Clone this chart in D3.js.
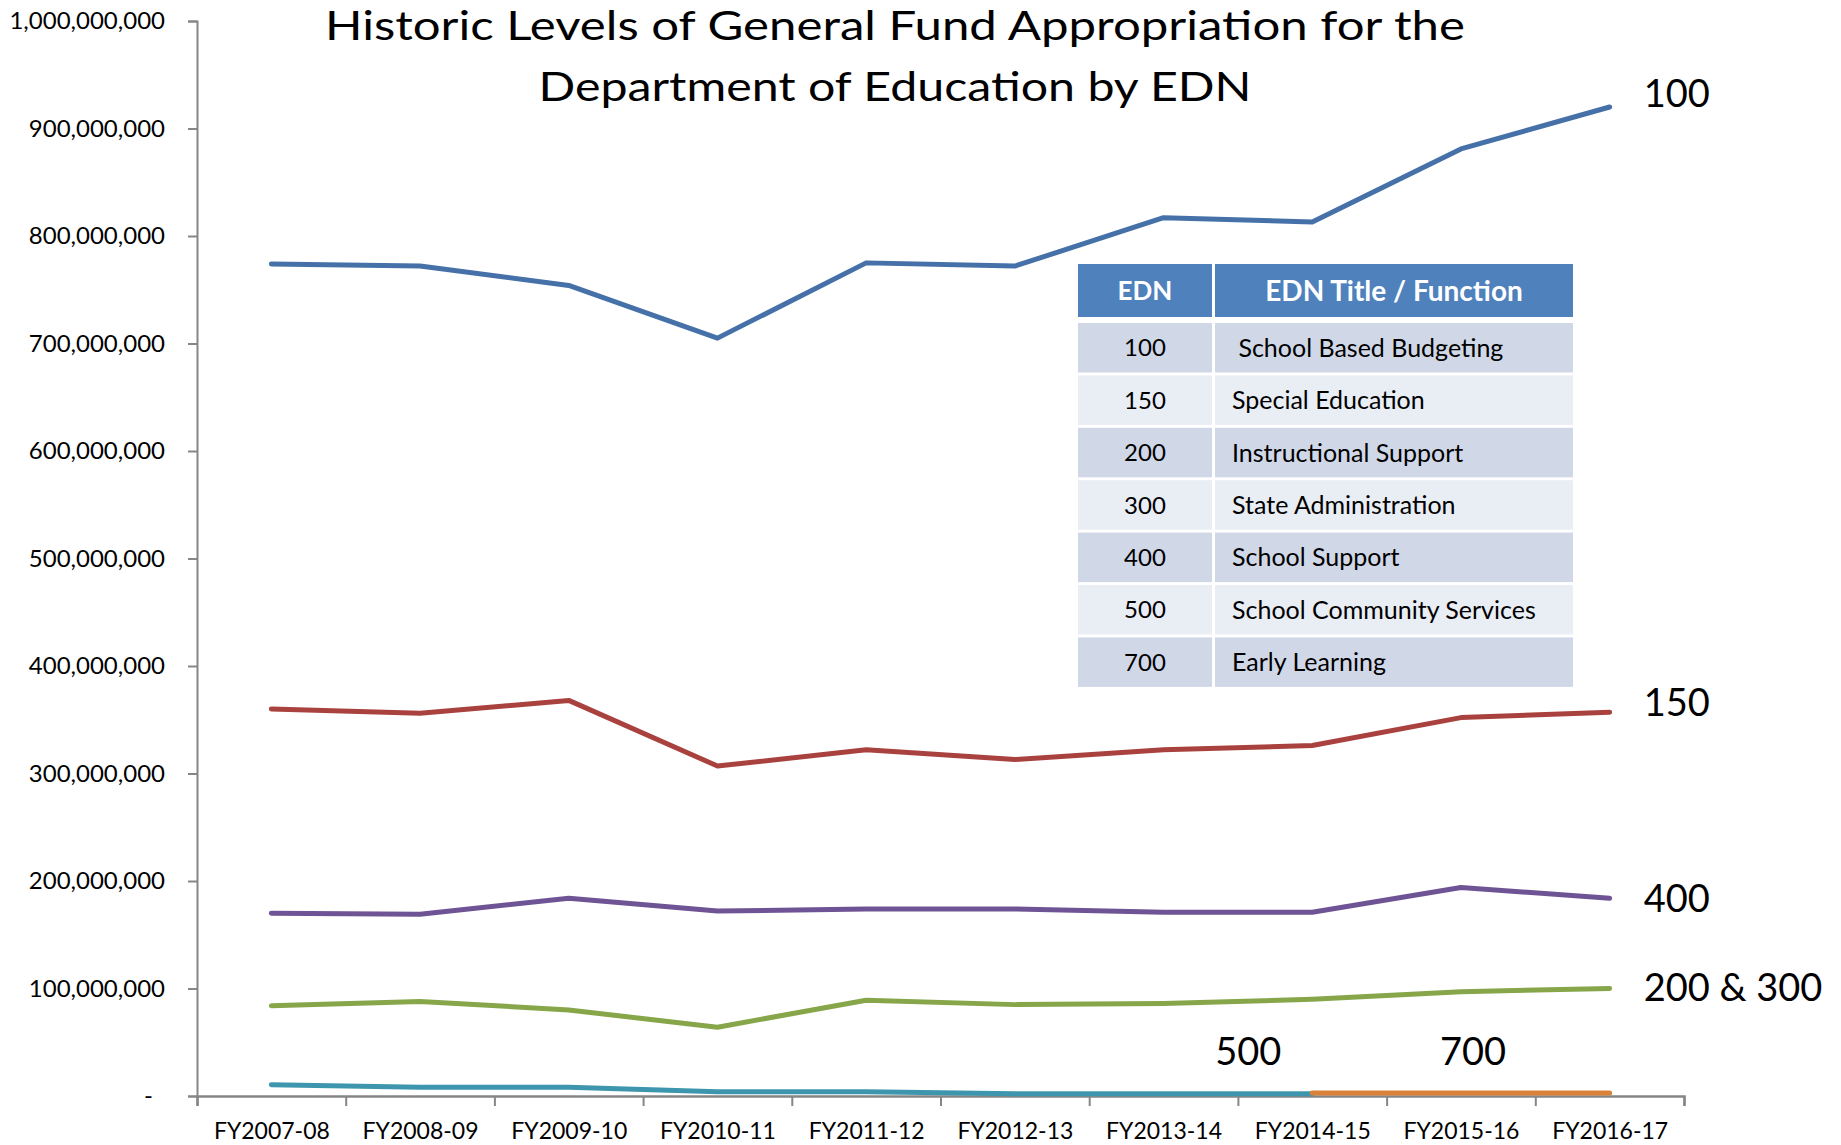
<!DOCTYPE html>
<html>
<head>
<meta charset="utf-8">
<script src="https://cdn.jsdelivr.net/npm/d3@7"></script>
<style>
  html, body { margin: 0; padding: 0; background: #ffffff; }
  svg { display: block; }
  text { font-family: Lato, "Noto Sans", sans-serif; fill: #000; }
</style>
</head>
<body>
<svg id="chart" width="1841" height="1145"></svg>
<script>
// ---------------- data ----------------
const categories = ["FY2007-08","FY2008-09","FY2009-10","FY2010-11","FY2011-12",
                    "FY2012-13","FY2013-14","FY2014-15","FY2015-16","FY2016-17"];

const edn100    = [774000000, 772000000, 754000000, 705000000, 775000000, 772000000, 817000000, 813000000, 881000000, 920000000];
const edn150    = [360000000, 356000000, 368000000, 307000000, 322000000, 313000000, 322000000, 326000000, 352000000, 357000000];
const edn400    = [170000000, 169000000, 184000000, 172000000, 174000000, 174000000, 171000000, 171000000, 194000000, 184000000];
const edn200300 = [84000000, 88000000, 80000000, 64000000, 89000000, 85000000, 86000000, 90000000, 97000000, 100000000];
const edn500    = [10400000, 8200000, 8200000, 3900000, 3900000, 2000000, 2000000, 2000000, null, null];
const edn700    = [null, null, null, null, null, null, null, 2800000, 2800000, 2800000];

const seriesNames  = ["100", "150", "400", "200 & 300", "500", "700"];
const seriesColors = ["#4571A8", "#A9423F", "#6E5494", "#87A64A", "#3D96AE", "#DB823A"];

const yTicks = [0, 100000000, 200000000, 300000000, 400000000, 500000000,
                600000000, 700000000, 800000000, 900000000, 1000000000];

const titleLines = ["Historic Levels of General Fund Appropriation for the",
                    "Department of Education by EDN"];

const tableHeader = ["EDN", "EDN Title / Function"];
const tableCodes  = ["100", "150", "200", "300", "400", "500", "700"];
const tableTitles = [" School Based Budgeting", "Special Education", "Instructional Support",
                     "State Administration", "School Support", "School Community Services", "Early Learning"];

// ---------------- layout ----------------
const svg = d3.select("#chart");
const plotLeft = 197, plotRight = 1684, plotTop = 21, plotBottom = 1096;

const x = d3.scalePoint().domain(categories).range([plotLeft, plotRight]).padding(0.5);
const xEdges = d3.scaleLinear().domain([0, categories.length]).range([plotLeft, plotRight]);
const y = d3.scaleLinear().domain([0, 1000000000]).range([plotBottom, plotTop]);

const axisColor = "#868686";

// y axis
const yAxis = svg.append("g")
  .attr("transform", `translate(${plotLeft},0)`)
  .call(d3.axisLeft(y).tickValues(yTicks).tickSize(9).tickPadding(23)
        .tickFormat(d => d === 0 ? "-" : d3.format(",")(d)));
yAxis.select(".domain").attr("stroke", axisColor).attr("stroke-width", 2);
yAxis.selectAll(".tick line").attr("stroke", axisColor).attr("stroke-width", 2);
yAxis.selectAll(".tick text").style("font-size", "24px").style("font-family", "Lato, sans-serif")
  .attr("fill", "#000")
  .attr("dx", d => d === 0 ? -12 : 0);

// x axis tick marks at category boundaries
const xTickAxis = svg.append("g")
  .attr("transform", `translate(0,${plotBottom})`)
  .call(d3.axisBottom(xEdges).tickValues(d3.range(categories.length + 1)).tickSize(10).tickFormat(""));
xTickAxis.select(".domain").attr("stroke", axisColor).attr("stroke-width", 2.5);
xTickAxis.selectAll(".tick line").attr("stroke", axisColor).attr("stroke-width", 2);

// x axis labels
const xLab = svg.append("g")
  .attr("transform", `translate(0,${plotBottom})`)
  .call(d3.axisBottom(x).tickSize(0).tickPadding(27));
xLab.select(".domain").remove();
xLab.selectAll(".tick text").style("font-size", "23px").style("font-family", "Lato, sans-serif").attr("fill", "#000");

// lines
const allSeries = [edn100, edn150, edn400, edn200300, edn500, edn700];
const line = d3.line()
  .defined(d => d.v !== null)
  .x(d => x(d.c))
  .y(d => y(d.v));

allSeries.forEach((vals, i) => {
  const pts = categories.map((c, j) => ({ c, v: vals[j] }));
  svg.append("path")
    .datum(pts)
    .attr("d", line)
    .attr("fill", "none")
    .attr("stroke", seriesColors[i])
    .attr("stroke-width", 5)
    .attr("stroke-linecap", "round")
    .attr("stroke-linejoin", "round");
});

// series labels
const labelFont = "38px";
const lastIdx = categories.length - 1;
const labelShift = [-14, -10, 0, -1];
[[0, edn100], [1, edn150], [2, edn400], [3, edn200300]].forEach(([i, vals]) => {
  svg.append("text")
    .attr("x", x(categories[lastIdx]) + 34)
    .attr("y", y(vals[lastIdx]) + labelShift[i])
    .attr("dy", "0.36em")
    .style("font-size", labelFont)
    .text(seriesNames[i]);
});
const step = x.step();
svg.append("text")
  .attr("x", x(categories[6]) + step * 0.57).attr("y", 1051).attr("dy", "0.36em")
  .attr("text-anchor", "middle").style("font-size", labelFont).text(seriesNames[4]);
svg.append("text")
  .attr("x", x(categories[8]) + 12).attr("y", 1051).attr("dy", "0.36em")
  .attr("text-anchor", "middle").style("font-size", labelFont).text(seriesNames[5]);

// title
const titleWidths = [1140, 713];
const titleBaselines = [40, 101];
titleLines.forEach((t, i) => {
  svg.append("text")
    .attr("x", 895).attr("y", titleBaselines[i])
    .attr("text-anchor", "middle")
    .attr("textLength", titleWidths[i])
    .attr("lengthAdjust", "spacingAndGlyphs")
    .style("font-size", "40px")
    .text(t);
});

// table
const tX0 = 1078, tX1 = 1212, tX2 = 1215, tX3 = 1573;
const headTop = 264, headH = 53, rowTop = 323, rowPitch = 52.4, rowH = 49.5;
const tbl = svg.append("g");
tbl.append("rect").attr("x", tX0).attr("y", headTop).attr("width", tX1 - tX0).attr("height", headH).attr("fill", "#4F81BD");
tbl.append("rect").attr("x", tX2).attr("y", headTop).attr("width", tX3 - tX2).attr("height", headH).attr("fill", "#4F81BD");
tbl.append("text").attr("x", (tX0 + tX1) / 2).attr("y", headTop + headH / 2).attr("dy", "0.36em")
  .attr("text-anchor", "middle").style("fill", "#fff")
  .style("font-weight", "bold").style("font-size", "26px").text(tableHeader[0]);
tbl.append("text").attr("x", (tX2 + tX3) / 2).attr("y", headTop + headH / 2).attr("dy", "0.36em")
  .attr("text-anchor", "middle").style("fill", "#fff")
  .style("font-weight", "bold").style("font-size", "28px").text(tableHeader[1]);

const rows = tbl.selectAll("g.row").data(tableCodes.map((c, i) => ({ c, t: tableTitles[i], i })))
  .enter().append("g").attr("class", "row")
  .attr("transform", d => `translate(0,${rowTop + d.i * rowPitch})`);
rows.append("rect").attr("x", tX0).attr("width", tX1 - tX0).attr("height", rowH)
  .attr("fill", d => d.i % 2 === 0 ? "#D0D8E8" : "#E9EDF4");
rows.append("rect").attr("x", tX2).attr("width", tX3 - tX2).attr("height", rowH)
  .attr("fill", d => d.i % 2 === 0 ? "#D0D8E8" : "#E9EDF4");
rows.append("text").attr("x", (tX0 + tX1) / 2).attr("y", rowH / 2).attr("dy", "0.36em")
  .attr("text-anchor", "middle").style("font-size", "24px").text(d => d.c);
rows.append("text").attr("x", 1232).attr("y", rowH / 2).attr("dy", "0.36em")
  .style("font-size", "25px").style("white-space", "pre").text(d => d.t);
</script>
</body>
</html>
